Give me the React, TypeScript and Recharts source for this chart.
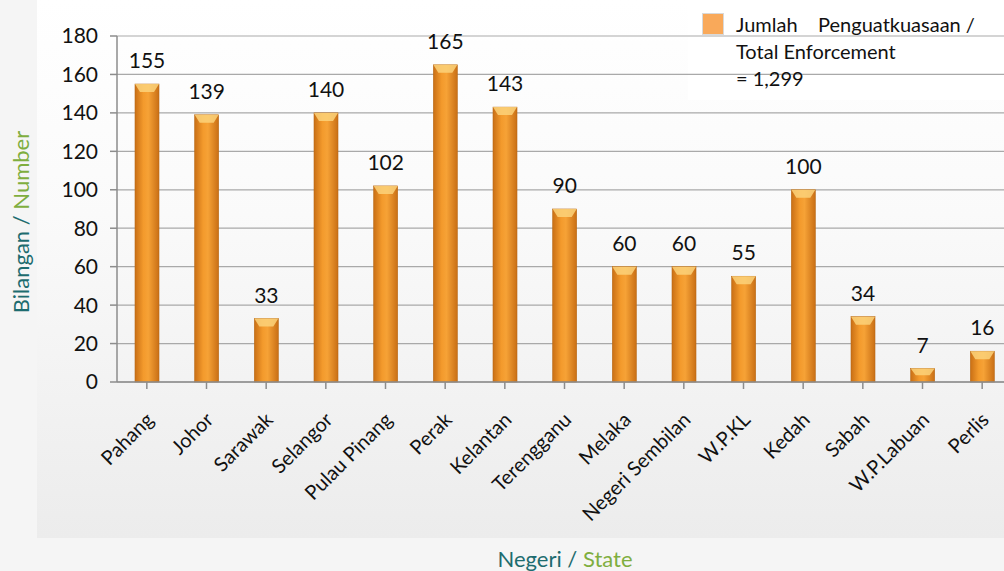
import { BarChart, Bar, XAxis, YAxis, CartesianGrid, LabelList } from "recharts";

const states = [
  "Pahang", "Johor", "Sarawak", "Selangor", "Pulau Pinang", "Perak", "Kelantan",
  "Terengganu", "Melaka", "Negeri Sembilan", "W.P.KL", "Kedah", "Sabah", "W.P.Labuan", "Perlis",
];
const enforcement = [155, 139, 33, 140, 102, 165, 143, 90, 60, 60, 55, 100, 34, 7, 16];
const yTicks = [0, 20, 40, 60, 80, 100, 120, 140, 160, 180];

const data = states.map((state, i) => ({ state, value: enforcement[i] }));

const FONT = "Lato, 'Open Sans', sans-serif";

function BarShape(props: any) {
  const { x, y, width, height } = props;
  if (!height || height <= 0) return null;
  const bevel = Math.min(8, height / 2);
  return (
    <g>
      <rect x={x} y={y} width={width} height={height} fill="url(#barGrad)" stroke="#b86a18" strokeWidth={0.6} />
      <polygon
        points={`${x},${y} ${x + width},${y} ${x + width - 5},${y + bevel} ${x + 5},${y + bevel}`}
        fill="#fcd27a"
        opacity={0.85}
      />
    </g>
  );
}

export default function App() {
  return (
    <div style={{ position: "absolute", left: 0, top: 0, width: 1004, height: 571, overflow: "hidden", background: "#f5f5f5" }}>
      <div
        style={{
          position: "absolute", left: 37, top: 0, width: 967, height: 538,
          background: "linear-gradient(to bottom, #ffffff 0%, #fafafa 40%, #ececec 100%)",
        }}
      />
      <div style={{ position: "absolute", left: 688, top: 0, width: 316, height: 100, background: "#ffffff" }} />
      <div
        style={{
          position: "absolute", left: 20, top: 222, transform: "translate(-50%, -50%) rotate(-90deg)",
          whiteSpace: "nowrap", fontFamily: FONT, fontSize: 22,
        }}
      >
        <span style={{ color: "#1d6c6f" }}>Bilangan / </span>
        <span style={{ color: "#7fae3f" }}>Number</span>
      </div>
      <div
        style={{
          position: "absolute", left: 565, top: 558, transform: "translate(-50%, -50%)",
          whiteSpace: "nowrap", fontFamily: FONT, fontSize: 22,
        }}
      >
        <span style={{ color: "#1d6c6f" }}>Negeri / </span>
        <span style={{ color: "#7fae3f" }}>State</span>
      </div>
      <div style={{ position: "absolute", left: 0, top: 0 }}>
        <BarChart width={1012} height={571} data={data} margin={{ top: 36, right: 0, left: 0, bottom: 69 }}>
          <defs>
            <linearGradient id="barGrad" x1="0" y1="0" x2="1" y2="0">
              <stop offset="0%" stopColor="#c96f15" />
              <stop offset="35%" stopColor="#f39a2c" />
              <stop offset="55%" stopColor="#f6a236" />
              <stop offset="100%" stopColor="#c96f15" />
            </linearGradient>
          </defs>
          <CartesianGrid vertical={false} stroke="#a9a9a9" strokeWidth={1.2} />
          <XAxis
            dataKey="state"
            interval={0}
            height={120}
            angle={-45}
            textAnchor="end"
            tickSize={7}
            tickMargin={22}
            tick={{ fontSize: 20, fill: "#111", fontFamily: FONT, dx: -2 }}
            stroke="#8c8c8c"
            strokeWidth={1.5}
          />
          <YAxis
            domain={[0, 180]}
            ticks={yTicks}
            width={117}
            tickSize={7}
            tickMargin={12}
            tick={{ fontSize: 21, fill: "#111", fontFamily: FONT }}
            stroke="#8c8c8c"
            strokeWidth={1.5}
          />
          <Bar dataKey="value" barSize={24} shape={<BarShape />} isAnimationActive={false}>
            <LabelList dataKey="value" position="top" offset={16} fill="#111" fontSize={21} fontFamily={FONT} />
          </Bar>
        </BarChart>
      </div>
      <div
        style={{
          position: "absolute", left: 702, top: 11, display: "flex", fontFamily: FONT,
          fontSize: 20, color: "#111", lineHeight: "27px",
        }}
      >
        <span style={{ width: 20, height: 20, background: "#f9a95a", border: "1px solid #d9d9d9", marginTop: 2, marginRight: 12, flexShrink: 0 }} />
        <div>
          <div>Jumlah&nbsp;&nbsp;&nbsp;&nbsp;Penguatkuasaan /</div>
          <div>Total Enforcement</div>
          <div>= 1,299</div>
        </div>
      </div>
    </div>
  );
}
